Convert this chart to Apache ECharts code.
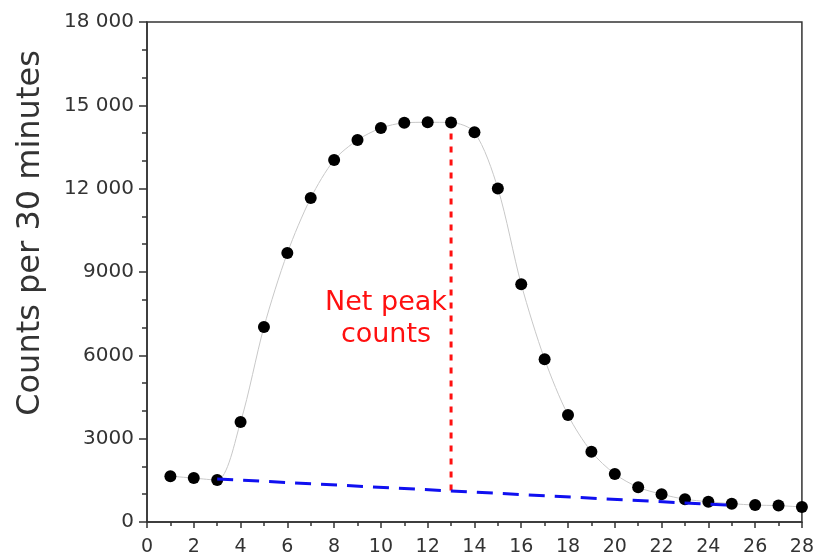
<!DOCTYPE html>
<html>
<head>
<meta charset="utf-8">
<script src="https://cdn.jsdelivr.net/npm/echarts@6/dist/echarts.min.js"></script>
<style>
  html, body { margin: 0; padding: 0; background: #fff; }
  #chart { width: 817px; height: 557px; }
</style>
</head>
<body>
<div id="chart"></div>
<script>
// measured counts per 30 min interval
const timeX = [1, 2, 3, 4, 5, 6, 7, 8, 9, 10, 11, 12, 13, 14, 15, 16, 17, 18, 19, 20, 21, 22, 23, 24, 25, 26, 27, 28]
const counts = [1650, 1580, 1510, 3600, 7020, 9680, 11660, 13030, 13750, 14180, 14370, 14390, 14380, 14030,
  12010, 8560, 5860, 3850, 2530, 1730, 1250, 1000, 820, 730, 660, 610, 590, 540]

// background line
const baselineX = [3, 25]
const baselineY = [1550, 600]

// net peak marker
const peakX = 13
const peakY = [1130, 14380]

const yTicks = [0, 3000, 6000, 9000, 12000, 15000, 18000]

const chart = echarts.init(document.getElementById('chart'))

const fmtY = v => v >= 10000 ? String(v).replace(/(\d+)(\d{3})$/, '$1 $2') : String(v)
const font = '"DejaVu Sans", Verdana, sans-serif'

const option = {
  animation: false,
  grid: {
    left: 147,
    right: 15,
    top: 22,
    bottom: 35,
    show: true,
    borderColor: '#333',
    borderWidth: 1.5
  },
  xAxis: {
    type: 'value',
    min: 0,
    max: 28,
    interval: 2,
    axisLine: { show: true, lineStyle: { color: '#333', width: 1.5 } },
    axisTick: { show: true, inside: false, length: 6, lineStyle: { color: '#333', width: 1.5 } },
    minorTick: { show: true, splitNumber: 2, length: 4, lineStyle: { color: '#333', width: 1.5 } },
    splitLine: { show: false },
    axisLabel: { color: '#333', fontSize: 19, fontFamily: font, margin: 16 }
  },
  yAxis: {
    type: 'value',
    min: yTicks[0],
    max: yTicks[yTicks.length - 1],
    interval: 3000,
    axisLine: { show: true, lineStyle: { color: '#333', width: 1.5 } },
    axisTick: { show: true, inside: false, length: 8, lineStyle: { color: '#333', width: 1.5 } },
    minorTick: { show: true, splitNumber: 3, length: 5, lineStyle: { color: '#333', width: 1.5 } },
    splitLine: { show: false },
    axisLabel: {
      color: '#333', fontSize: 20, fontFamily: font, margin: 13,
      formatter: fmtY
    }
  },
  series: [
    {
      name: 'counts',
      type: 'line',
      data: timeX.map((x, i) => [x, counts[i]]),
      smooth: 0.3,
      symbol: 'circle',
      symbolSize: 12,
      itemStyle: { color: '#000' },
      lineStyle: { color: '#c8c8c8', width: 1 },
      z: 3
    },
    {
      name: 'baseline',
      type: 'line',
      data: baselineX.map((x, i) => [x, baselineY[i]]),
      symbol: 'none',
      lineStyle: { color: '#1010f0', width: 3, type: [16, 10] },
      z: 4
    },
    {
      name: 'peak',
      type: 'line',
      data: peakY.map(y => [peakX, y]),
      symbol: 'none',
      lineStyle: { color: '#ff1010', width: 3, type: [6, 7] },
      z: 2
    }
  ],
  graphic: [
    {
      // y axis title, placed like the original (shifted up from center)
      type: 'text',
      x: 31,
      y: 233,
      rotation: Math.PI / 2,
      style: {
        text: 'Counts per 30 minutes',
        fill: '#333',
        font: '32px "DejaVu Sans", Verdana, sans-serif',
        align: 'center',
        verticalAlign: 'middle'
      }
    },
    {
      type: 'text',
      x: 386,
      y: 287,
      style: {
        text: 'Net peak\ncounts',
        fill: '#ff1010',
        font: '27px "DejaVu Sans", Verdana, sans-serif',
        align: 'center',
        lineHeight: 32
      }
    }
  ]
}

chart.setOption(option)
</script>
</body>
</html>
